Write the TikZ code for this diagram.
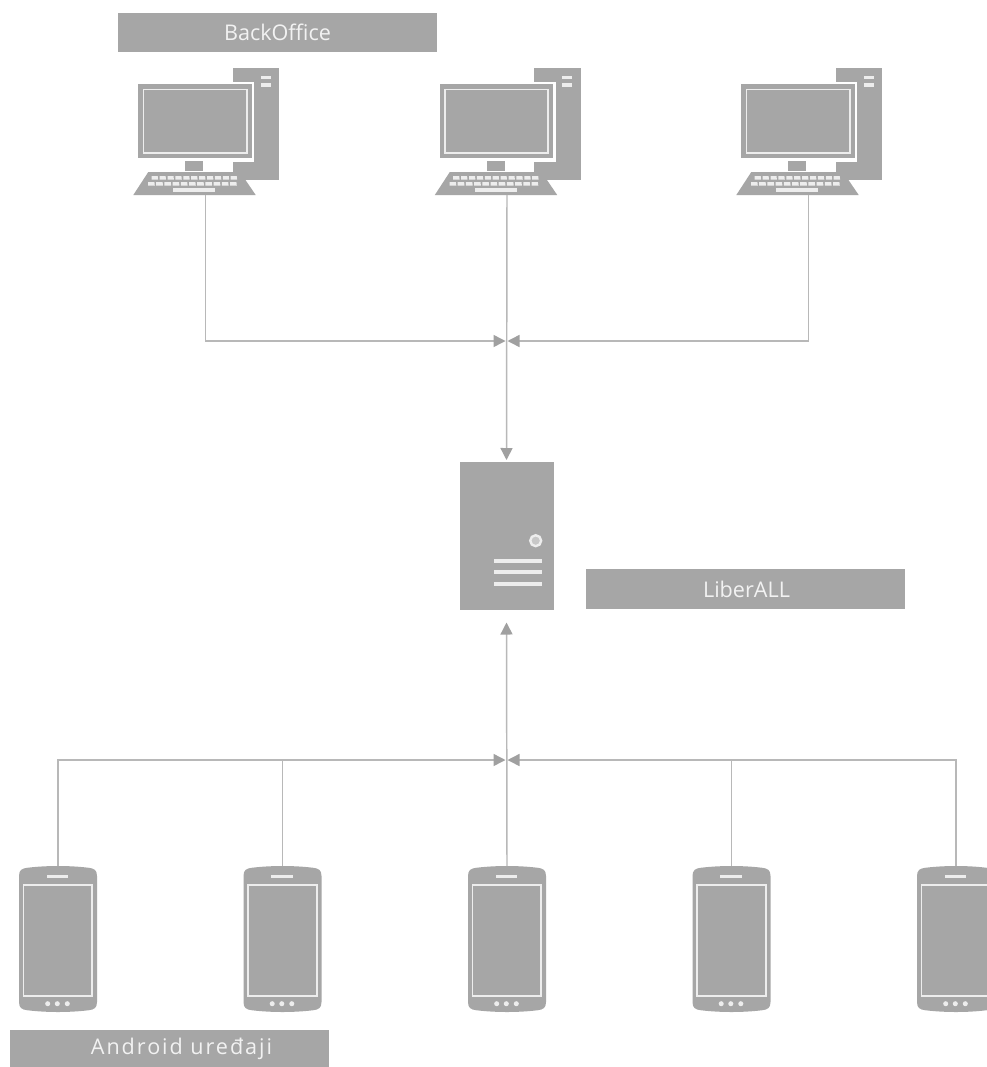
\documentclass[tikz,border=0pt]{standalone}
\usepackage{fontspec}
\setmainfont{Open Sans}
\usetikzlibrary{arrows.meta}
\definecolor{iconfill}{HTML}{A6A6A6}
\definecolor{iconline}{HTML}{EDEDED}
\definecolor{wire}{HTML}{B8B8B8}
\definecolor{tip}{HTML}{A0A0A0}
\tikzset{
  labelbox/.style={fill=iconfill,text=white!95!black,inner sep=0pt,minimum width=239.25pt,minimum height=29.5pt,font=\fontsize{16.2pt}{18pt}\selectfont},
  icon/.style={fill=iconfill,draw=none},
  liner/.style={draw=iconline,line width=1.3pt},
  lightfill/.style={fill=iconline,draw=none},
  wirearrow/.style={draw=wire,line width=1.1pt,-{Triangle[length=9pt,width=9pt,color=tip]}},
  wireplain/.style={draw=wire,line width=1.1pt},
  computer/.pic={
    \path[icon] (94.5,0) rectangle (141,112.5);
    \path[fill=white] (94.5,14.5) rectangle (116.3,94);
    \path[lightfill] (122.7,8.5) rectangle (132.7,11.8);
    \path[lightfill] (122.7,15.8) rectangle (132.7,19.2);
    \path[icon] (0,16.5) rectangle (113.7,90.8);
    \path[liner] (5.5,22) rectangle (108.7,85.8);
    \path[icon] (47,93.2) rectangle (65.3,103.5);
    \path[icon] (10.3,104.5) -- (102,104.5) -- (117.7,127.5) -- (-4.7,127.5) -- cycle;
    \foreach \i in {0,...,10}{
      \path[lightfill] (13.7+\i*7.9,108.5) -- ++(6,0) -- ++(0.4,3.6) -- ++(-6.4,0) -- cycle;
      \path[lightfill] (10+\i*8.2,114.5) -- ++(6.4,0) -- ++(0.4,3.6) -- ++(-6.8,0) -- cycle;
    }
    \path[lightfill] (35,120.5) rectangle (77,124.2);
    \coordinate (-port) at (67.5,127.5);
  },
  phone/.pic={
    \path[icon] (0,10) .. controls (0,4) and (3,2.5) .. (8,1.8)
      .. controls (28,-0.6) and (50,-0.6) .. (70,1.8)
      .. controls (75,2.5) and (78,4) .. (78,10)
      -- (78,136) .. controls (78,142) and (75,143.5) .. (70,144.2)
      .. controls (50,146.6) and (28,146.6) .. (8,144.2)
      .. controls (3,143.5) and (0,142) .. (0,136) -- cycle;
    \path[lightfill] (27.7,9) rectangle (49.3,12);
    \path[liner] (4.5,19) rectangle (73.3,130);
    \foreach \dx in {28.7,38.3,48.3}{\path[lightfill] (\dx,137.7) circle (1.9pt);}
    \coordinate (-port) at (39,0);
  }
}
\begin{document}
\begin{tikzpicture}[x=0.75pt,y=-0.75pt]
\useasboundingbox (0,0) rectangle (987,1067);
\path[fill=white] (0,0) rectangle (987,1067);
% computers
\pic (pcA) at (138,67.5) {computer};
\pic (pcB) at (439.5,67.5) {computer};
\pic (pcC) at (741,67.5) {computer};
% server
\node[icon,minimum width=70.5pt,minimum height=110.7pt,inner sep=0pt,anchor=north west] (server) at (459.3,461.7) {};
\node[circle,fill=black!22,draw=iconline,line width=1.8pt,minimum size=8.2pt,inner sep=0pt] (led) at (535.7,540.7) {};
\foreach \yy in {561,572.3,583.7}{\path[lightfill] (494.3,\yy-2) rectangle (541.7,\yy+2);}
% phones
\pic (phA) at (19,866) {phone};
\pic (phB) at (243.5,866) {phone};
\pic (phC) at (468,866) {phone};
\pic (phD) at (692.5,866) {phone};
\pic (phE) at (917,866) {phone};
% labels
\node[labelbox] (backoffice) at (277.5,32.5) {BackOffice};
\node[labelbox] (liberall) at (745.5,589) {\hspace*{1.5pt}LiberALL};
\node[labelbox,minimum height=28pt] (android) at (169.5,1048.5) {\hspace*{18pt}\addfontfeature{LetterSpace=9}Android uređaji};
% junctions
\coordinate (jtopL) at (505.5,341);
\coordinate (jtopR) at (507.5,341);
\coordinate (jbotL) at (505.5,760);
\coordinate (jbotR) at (507.5,760);
\coordinate (servertop) at (506.5,460);
\coordinate (serverbot) at (506.5,622.5);
% connectors
\draw[wirearrow] (pcA-port) |- (jtopL);
\draw[wirearrow] (pcC-port) |- (jtopR);
\draw[wirearrow] (pcB-port) -- (servertop);
\draw[wirearrow] (phC-port) -- (serverbot);
\draw[wirearrow] (phA-port) |- (jbotL);
\draw[wirearrow] (phE-port) |- (jbotR);
\draw[wireplain] (phB-port) -- ++(0,-106);
\draw[wireplain] (phD-port) -- ++(0,-106);
\end{tikzpicture}
\end{document}
